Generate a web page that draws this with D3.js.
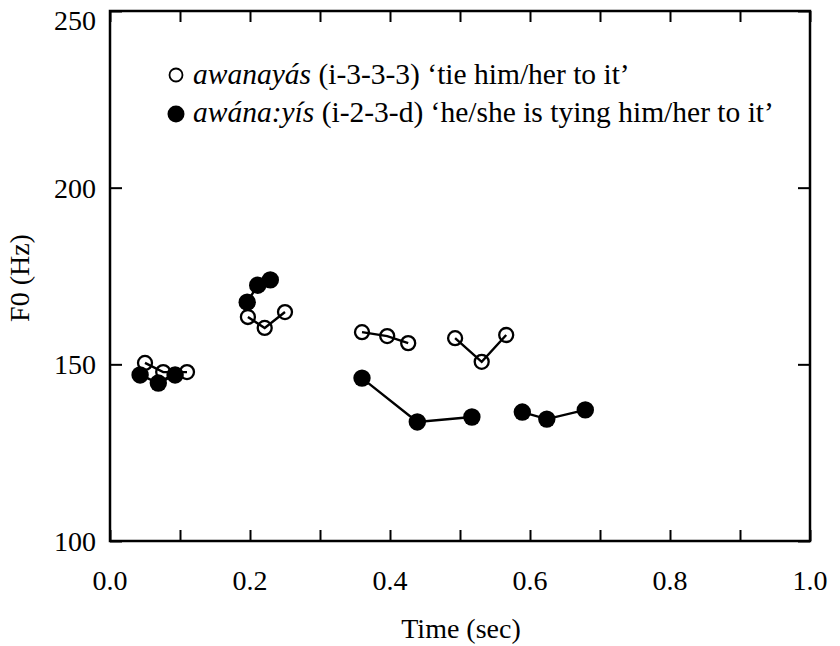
<!DOCTYPE html>
<html><head><meta charset="utf-8">
<script src="https://cdn.jsdelivr.net/npm/d3@7"></script>
<style>body{margin:0;background:#fff}svg{display:block}</style>
</head><body>
<svg id="c" width="840" height="646"></svg>
<script>
// groups of points (time sec, F0 Hz)
const openGroups = [
  [[0.050,150.4],[0.076,147.8],[0.110,147.8]],
  [[0.197,163.4],[0.221,160.3],[0.250,164.8]],
  [[0.360,159.1],[0.396,158.0],[0.426,156.0]],
  [[0.493,157.4],[0.531,150.7],[0.566,158.3]]
];
const filledGroups = [
  [[0.043,147.0],[0.069,144.7],[0.093,147.0]],
  [[0.196,167.6],[0.211,172.4],[0.229,173.9]],
  [[0.360,146.1],[0.439,133.7],[0.517,135.1]],
  [[0.589,136.5],[0.624,134.5],[0.679,137.1]]
];
const xTicks = [0,0.1,0.2,0.3,0.4,0.5,0.6,0.7,0.8,0.9,1.0];
const xTickLabels = [0,0.2,0.4,0.6,0.8,1.0];
const yTicks = [100,150,200,250];
const legendLabels = [
  {it:"awanayás", rest:" (i-3-3-3) \u2018tie him/her to it\u2019"},
  {it:"awána:yís", rest:" (i-2-3-d) \u2018he/she is tying him/her to it\u2019"}
];

(function(){
const svg = d3.select("#c");
const L=110, R=810, T=11, B=541;
const x = d3.scaleLinear().domain([0,1]).range([L,R]);
const y = d3.scaleLinear().domain([100,250]).range([B,T]);
const font = "'Liberation Serif', 'Times New Roman', serif";

// frame
svg.append("rect").attr("x",L).attr("y",T).attr("width",R-L).attr("height",B-T)
  .attr("fill","none").attr("stroke","#000").attr("stroke-width",2.5);

// axes with inward ticks
const gB = svg.append("g").attr("transform",`translate(0,${B})`)
  .call(d3.axisBottom(x).tickValues(xTicks).tickSize(-11).tickFormat(""));
const gT = svg.append("g").attr("transform",`translate(0,${T})`)
  .call(d3.axisTop(x).tickValues(xTicks).tickSize(-11).tickFormat(""));
const gL = svg.append("g").attr("transform",`translate(${L},0)`)
  .call(d3.axisLeft(y).tickValues(yTicks).tickSize(-12).tickFormat(""));
const gR = svg.append("g").attr("transform",`translate(${R},0)`)
  .call(d3.axisRight(y).tickValues(yTicks).tickSize(-12).tickFormat(""));
[gB,gT,gL,gR].forEach(g=>{
  g.select(".domain").remove();
  g.selectAll(".tick line").attr("stroke","#000").attr("stroke-width",2);
});

// tick labels
svg.append("g").selectAll("text").data(xTickLabels).join("text")
  .attr("x",d=>x(d)).attr("y",590).attr("text-anchor","middle")
  .attr("font-family",font).attr("font-size",28).text(d=>d3.format(".1f")(d));
svg.append("g").selectAll("text").data(yTicks).join("text")
  .attr("x",96).attr("y",d=>Math.max(y(d)+10,30)).attr("text-anchor","end")
  .attr("font-family",font).attr("font-size",28).text(d=>d);

// axis titles
svg.append("text").attr("x",461).attr("y",638).attr("text-anchor","middle")
  .attr("font-family",font).attr("font-size",28).text("Time (sec)");
svg.append("text").attr("transform","translate(29,278) rotate(-90)")
  .attr("text-anchor","middle").attr("font-family",font).attr("font-size",28).text("F0 (Hz)");

const line = d3.line().x(d=>x(d[0])).y(d=>y(d[1]));
const plot = svg.append("g");

// open series
openGroups.forEach(g=>{
  plot.append("path").attr("d",line(g)).attr("fill","none").attr("stroke","#000").attr("stroke-width",2.4);
});
openGroups.forEach(g=>{
  plot.selectAll(null).data(g).join("circle")
    .attr("cx",d=>x(d[0])).attr("cy",d=>y(d[1])).attr("r",7)
    .attr("fill","none").attr("stroke","#000").attr("stroke-width",2.3);
});
// filled series
filledGroups.forEach(g=>{
  plot.append("path").attr("d",line(g)).attr("fill","none").attr("stroke","#000").attr("stroke-width",2.4);
  plot.selectAll(null).data(g).join("circle")
    .attr("cx",d=>x(d[0])).attr("cy",d=>y(d[1])).attr("r",8.7).attr("fill","#000");
});

// legend
const lg = svg.append("g");
lg.append("circle").attr("cx",176).attr("cy",75).attr("r",6.5).attr("fill","#fff")
  .attr("stroke","#000").attr("stroke-width",1.8);
lg.append("circle").attr("cx",176).attr("cy",114).attr("r",8.5).attr("fill","#000");
legendLabels.forEach((l,i)=>{
  const t = lg.append("text").attr("x",193).attr("y",84+i*38)
    .attr("font-family",font).attr("font-size",29.5);
  t.append("tspan").attr("font-style","italic").text(l.it);
  t.append("tspan").text(l.rest);
});
})();
</script>
</body></html>
